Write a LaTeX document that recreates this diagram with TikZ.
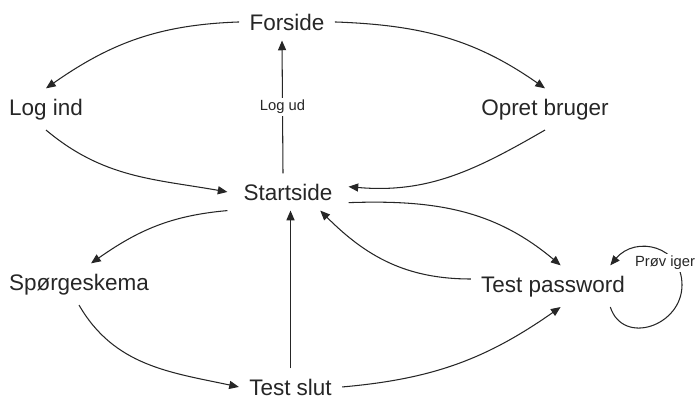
\documentclass[tikz,border=0pt]{standalone}
\usepackage{fontspec}
\setmainfont{Liberation Sans}
\usetikzlibrary{arrows.meta, positioning}

\begin{document}
\begin{tikzpicture}[
    x=0.02cm, y=0.02cm,
    % Define the page node style
    page/.style={
        inner sep=5.7pt,
        anchor=base,
        text=black!85,
        font=\fontsize{12.8}{15}\selectfont
    },
    % Connection style
    link/.style={
        -{Triangle[length=5.5pt, width=4.6pt]},
        line width=0.6pt,
        draw=black!85
    },
    % Small label on a connection
    note/.style={
        fill=white,
        inner sep=1.2pt,
        text=black!85,
        font=\fontsize{8.4}{10}\selectfont
    }
]
\useasboundingbox (0,0) rectangle (696,400);

% Position the pages
\node[page] (forside) at (287,370) {Forside};
\node[page] (logind) at (46,285) {Log ind};
\node[page] (opret) at (545,285) {Opret bruger};
\node[page, inner xsep=9pt] (startside) at (288,200) {Startside};
\node[page] (sporg) at (79,110) {Spørgeskema};
\node[page] (testpw) at (553,108) {Test password};
\node[page] (testslut) at (290.5,5) {Test slut};
\coordinate (loopright) at (682,115);

% Login and new user
\draw[link] (forside.west) to[out=182, in=35] (logind.north);
\draw[link] (forside.east) to[out=-2, in=145] (opret.north);
\draw[link] (logind.south) to[out=-40, in=170] (startside.west);
\draw[link] (opret.south) to[out=210, in=-5] (startside.5);
\draw[link] ([xshift=-0.1cm]startside.north) -- node[note] {Log ud} ([xshift=-0.1cm]forside.south);

% Questionnaire
\draw[link] (startside.south west) to[out=185, in=35] (sporg.60);
\draw[link] (sporg.south) to[out=-60, in=168] (testslut.west);
\draw[link] (testslut.north) -- (testslut.north |- startside.south);

% Password check
\draw[link] (testslut.east) to[out=5, in=-145] (testpw.-70);
\draw[link] (startside.-10) to[out=2, in=140] (testpw.70);
\draw[link] (testpw.175) to[out=180, in=-45] (startside.-30);
\draw[link] (testpw.-20) to[out=-72, in=-90, looseness=1.4] (loopright)
    to[out=90, in=50, looseness=1.35] (testpw.20);
\node[note] (retry) at (665,137) {Prøv iger};

\end{tikzpicture}
\end{document}
